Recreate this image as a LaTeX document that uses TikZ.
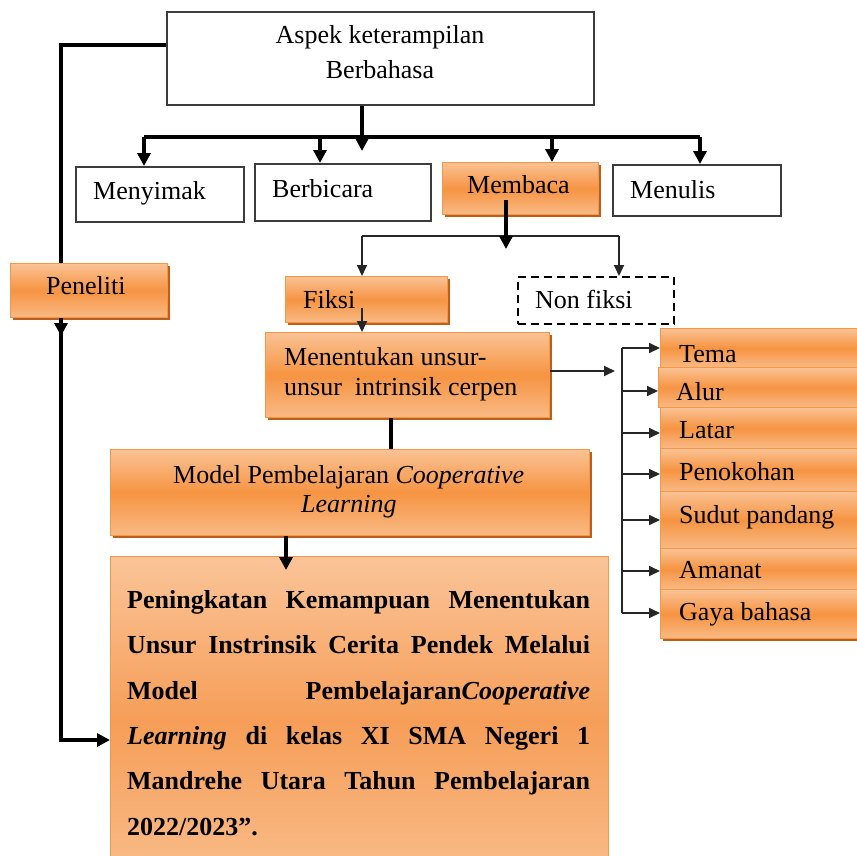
\documentclass[tikz,border=0pt]{standalone}
\usepackage{fontspec}
\setmainfont{Liberation Serif}
\usetikzlibrary{arrows.meta,shadows,calc}
\definecolor{obord}{RGB}{247,150,70}
\definecolor{otop}{RGB}{250,194,148}
\definecolor{omid}{RGB}{246,148,66}
\definecolor{obot}{RGB}{249,186,134}
\definecolor{oshad}{RGB}{190,95,25}
\definecolor{btop}{RGB}{250,196,152}
\definecolor{bmid}{RGB}{246,158,88}
\definecolor{bbot}{RGB}{249,190,140}
\definecolor{gbord}{RGB}{60,60,60}
\newcommand\myfs{\fontsize{26}{30}\selectfont}
\begin{document}
\begin{tikzpicture}[x=1pt,y=-1pt,
 wbox/.style={draw=gbord, line width=1.5pt, fill=white, inner sep=0pt, anchor=north west},
 obox/.style={draw=obord, line width=1.2pt, top color=otop, bottom color=obot, middle color=omid, inner sep=0pt, anchor=north west, drop shadow={shadow xshift=2.5pt, shadow yshift=-2.5pt, fill=oshad, opacity=1}},
 bigbox/.style={draw=obord, line width=1.2pt, top color=btop, bottom color=bbot, middle color=bmid, inner sep=0pt, anchor=north west},
 dbox/.style={draw=black, line width=1.8pt, dash pattern=on 8pt off 5pt, fill=white, inner sep=0pt, anchor=north west},
 txt/.style={anchor=base west, inner sep=0pt, font=\myfs},
 btxt/.style={anchor=base west, inner sep=0pt, font=\myfs\bfseries},
 thk/.style={line width=4pt, draw=black},
 thn/.style={line width=1.8pt, draw=black!85},
 tk/.style={-{Triangle[width=13pt,length=13pt]}},
 tn/.style={-{Triangle[width=10pt,length=11pt]}},
]
\useasboundingbox (0,0) rectangle (857,855);
\clip (0,0) rectangle (857,855);

% boxes
\node[wbox, minimum width=427pt, minimum height=93pt] (main) at (166,11) {};
\node[wbox, minimum width=168pt, minimum height=55pt] (menyimak) at (75,166) {};
\node[wbox, minimum width=176pt, minimum height=57pt] (berbicara) at (254,163) {};
\node[obox, minimum width=156pt, minimum height=52pt] (membaca) at (442,162) {};
\node[wbox, minimum width=168pt, minimum height=51pt] (menulis) at (612,164) {};
\node[obox, minimum width=157pt, minimum height=54pt] (peneliti) at (10,263) {};
\node[obox, minimum width=162pt, minimum height=46pt] (fiksi) at (285,276) {};
\node[dbox, minimum width=156pt, minimum height=47pt] (nonfiksi) at (517,276) {};
\node[obox, minimum width=284pt, minimum height=85pt] (menentukan) at (265,332) {};
\node[obox, minimum width=479pt, minimum height=86pt] (model) at (110,449) {};
\node[bigbox, minimum width=498pt, minimum height=330pt] (big) at (110,556) {};

\node[obox, minimum width=230pt, minimum height=39pt] (tema) at (660,328) {};
\node[obox, minimum width=230pt, minimum height=40pt] (alur) at (658,367) {};
\node[obox, minimum width=230pt, minimum height=41pt] (latar) at (660,407) {};
\node[obox, minimum width=230pt, minimum height=43pt] (penokohan) at (660,448) {};
\node[obox, minimum width=230pt, minimum height=57pt] (sudut) at (660,491) {};
\node[obox, minimum width=230pt, minimum height=41pt] (amanat) at (660,548) {};
\node[obox, minimum width=230pt, minimum height=49pt] (gaya) at (660,589) {};

% coordinates
\coordinate (leftx) at (61,0);
\coordinate (topy) at (0,45);
\coordinate (lowy) at (0,740);
\coordinate (ptip) at (61,336);
\coordinate (bar) at (362,137);
\coordinate (bartip) at (362,151);
\coordinate (barL) at (144,137);
\coordinate (barB) at (320,137);
\coordinate (barM) at (552,137);
\coordinate (barR) at (700,137);
\coordinate (mb) at (506,200);
\coordinate (mbtip) at (506,249);
\coordinate (fl) at (362,236);
\coordinate (fr) at (619,236);
\coordinate (fk) at (362,308);
\coordinate (mt) at (615,371);
\coordinate (mm) at (391,0);
\coordinate (md) at (286,0);
\coordinate (mdtip) at (286,570);
\coordinate (a1) at (622,348);
\coordinate (a2) at (622,391);
\coordinate (a3) at (622,433);
\coordinate (a4) at (622,474);
\coordinate (a5) at (622,520);
\coordinate (a6) at (622,571);
\coordinate (a7) at (622,613);

% thick connectors
\draw[thk] (main.west |- topy) -| (peneliti.north -| leftx);
\draw[thk,tk] (peneliti.south -| leftx) |- (big.west |- lowy);
\draw[thk,tk] (peneliti.south -| leftx) -- (ptip);
\draw[thk] (main.south -| bar) -- (bar);
\draw[thk,tk] (bar) -- (bartip);
\draw[thk] (barL) -- (barR);
\draw[thk,tk] (barL) -- (barL |- menyimak.north);
\draw[thk,tk] (barB) -- (barB |- berbicara.north);
\draw[thk,tk] (barM) -- (barM |- membaca.north);
\draw[thk,tk] (barR) -- (barR |- menulis.north);
\draw[thk] (menentukan.south -| mm) -- (mm |- model.north);
\draw[thk,tk] (model.south -| md) -- (mdtip);

% thin connectors
\draw[thn] (fl) -- (fr);
\draw[thn,tn] (fl) -- (fl |- fiksi.north);
\draw[thn,tn] (fr) -- (fr |- nonfiksi.north);
\draw[thk,tk] (mb) -- (mbtip);
\draw[thn,tn] (fk) -- (fk |- menentukan.north);
\draw[thn,tn] (menentukan.east |- mt) -- (mt);
\draw[thn] (a1) -- (a7);
\draw[thn,tn] (a1) -- (a1 -| tema.west);
\draw[thn,tn] (a2) -- (a2 -| alur.west);
\draw[thn,tn] (a3) -- (a3 -| latar.west);
\draw[thn,tn] (a4) -- (a4 -| penokohan.west);
\draw[thn,tn] (a5) -- (a5 -| sudut.west);
\draw[thn,tn] (a6) -- (a6 -| amanat.west);
\draw[thn,tn] (a7) -- (a7 -| gaya.west);

% texts
\node[txt, anchor=base] (t1) at (380,43) {Aspek keterampilan};
\node[txt, anchor=base] (t2) at (380,78) {Berbahasa};
\node[txt] (t3) at (93,199) {Menyimak};
\node[txt] (t4) at (272,197) {Berbicara};
\node[txt] (t5) at (467,193) {Membaca};
\node[txt] (t6) at (630,198) {Menulis};
\node[txt] (t7) at (46,294) {Peneliti};
\node[txt] (t8) at (303,308) {Fiksi};
\node[txt] (t9) at (535,308) {Non fiksi};
\node[txt] (t10) at (284,365) {Menentukan unsur-};
\node[txt] (t11) at (284,395) {unsur\ \ intrinsik cerpen};
\node[txt] (t12) at (173,483) {Model Pembelajaran \textit{Cooperative}};
\node[txt] (t13) at (301,512) {\textit{Learning}};
\node[txt] (t14) at (679,362) {Tema};
\node[txt] (t15) at (676,400) {Alur};
\node[txt] (t16) at (679,438) {Latar};
\node[txt] (t17) at (679,480) {Penokohan};
\node[txt] (t18) at (679,523) {Sudut pandang};
\node[txt] (t19) at (679,578) {Amanat};
\node[txt] (t20) at (679,620) {Gaya bahasa};

\node[btxt] (b1) at (127,608) {\makebox[463pt][s]{Peningkatan Kemampuan Menentukan}};
\node[btxt] (b2) at (127,653.5) {\makebox[463pt][s]{Unsur Instrinsik Cerita Pendek Melalui}};
\node[btxt] (b3) at (127,699) {\makebox[463pt][s]{Model Pembelajaran\textit{Cooperative}}};
\node[btxt] (b4) at (127,744) {\makebox[463pt][s]{\textit{Learning} di kelas XI SMA Negeri 1}};
\node[btxt] (b5) at (127,789.5) {\makebox[463pt][s]{Mandrehe Utara Tahun Pembelajaran}};
\node[btxt] (b6) at (127,835) {2022/2023”.};
\end{tikzpicture}
\end{document}
